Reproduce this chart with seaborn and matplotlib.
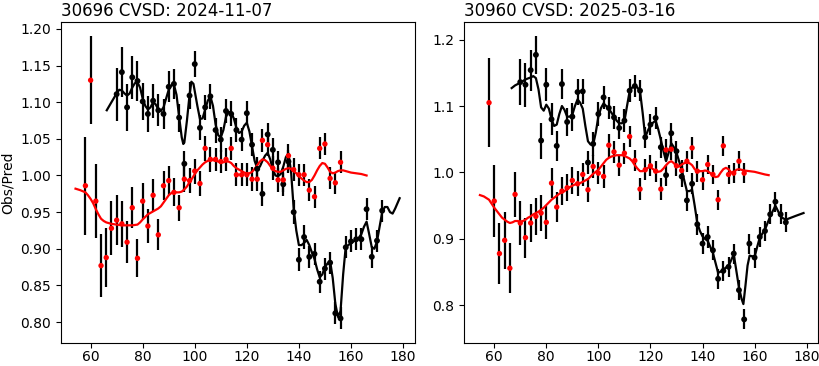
import numpy as np
import matplotlib
matplotlib.use("Agg")
import matplotlib.pyplot as plt
import seaborn as sns

# ---- panel 1: 30696, 2024-11-07 ----
titles = ["30696 CVSD: 2024-11-07", "30960 CVSD: 2025-03-16"]

p1_red_x = list(range(58, 158, 2))
p1_red_y = [0.986, 1.130, 0.965, 0.877, 0.888, 0.928, 0.939, 0.934, 0.909, 0.956,
            0.887, 0.965, 0.931, 0.973, 0.919, 0.986, 0.993, 0.977, 0.956, 0.995,
            0.993, 1.006, 0.989, 1.037, 1.022, 1.022, 1.019, 1.022, 1.037, 1.001,
            1.001, 1.001, 0.995, 0.995, 1.048, 1.042, 1.010, 0.994, 0.994, 1.027,
            1.008, 1.001, 1.001, 0.980, 0.971, 1.037, 1.043, 0.996, 0.990, 1.018]
p1_red_err = [0.067, 0.060, 0.050, 0.043, 0.040, 0.037, 0.034, 0.031, 0.029, 0.028,
              0.026, 0.025, 0.023, 0.022, 0.021, 0.020, 0.020, 0.019, 0.018, 0.018,
              0.017, 0.017, 0.017, 0.017, 0.017, 0.016, 0.016, 0.016, 0.016, 0.016,
              0.016, 0.016, 0.016, 0.016, 0.016, 0.016, 0.016, 0.016, 0.016, 0.016,
              0.016, 0.015, 0.015, 0.015, 0.015, 0.015, 0.015, 0.015, 0.015, 0.015]

p1_blk_x = list(range(70, 174, 2))
p1_blk_y = [1.111, 1.141, 1.093, 1.134, 1.129, 1.101, 1.084, 1.102, 1.089, 1.084,
            1.121, 1.125, 1.079, 1.016, 1.109, 1.152, 1.065, 1.093, 1.108, 1.062,
            1.049, 1.088, 1.084, 1.062, 1.049, 1.085, 1.042, 1.009, 0.975, 1.056,
            1.035, 1.018, 0.988, 1.019, 0.950, 0.885, 0.916, 0.889, 0.893, 0.855,
            0.873, 0.881, 0.812, 0.805, 0.902, 0.910, 0.913, 0.913, 0.954, 0.889,
            0.911, 0.952]
p1_blk_err = [0.036, 0.034, 0.032, 0.029, 0.027, 0.025, 0.024, 0.023, 0.022, 0.021,
              0.021, 0.020, 0.019, 0.018, 0.018, 0.018, 0.017, 0.017, 0.017, 0.017,
              0.017, 0.017, 0.017, 0.016, 0.016, 0.016, 0.016, 0.016, 0.016, 0.016,
              0.016, 0.016, 0.016, 0.016, 0.016, 0.016, 0.016, 0.015, 0.015, 0.015,
              0.015, 0.015, 0.015, 0.015, 0.015, 0.015, 0.015, 0.015, 0.015, 0.015,
              0.015, 0.015]

p1_redline_x = [54.2, 56, 58, 59, 60, 61, 62, 63, 64, 65, 66, 68, 70, 72, 74, 76, 78, 79, 80,
                82, 84, 85, 86, 87, 88, 89, 90, 91, 92, 93, 94, 95, 96, 97, 98, 99, 100,
                101, 102, 103, 104, 105, 106, 107, 108, 109, 110, 111, 112, 113, 114, 115,
                116, 117, 118, 119, 120, 121, 122, 123, 124, 125, 126, 127, 128, 129, 130,
                131, 132, 133, 134, 135, 136, 137, 138, 139, 140, 141, 142, 143, 144, 145,
                146, 147, 148, 149, 150, 151, 152, 153, 154, 155, 156, 157, 158, 160, 162,
                164, 166]
p1_redline_y = [0.982, 0.980, 0.977, 0.973, 0.968, 0.962, 0.954, 0.947, 0.941, 0.938, 0.936,
                0.934, 0.933, 0.932, 0.932, 0.932, 0.933, 0.936, 0.940, 0.947, 0.951, 0.953,
                0.955, 0.958, 0.963, 0.968, 0.973, 0.976, 0.977, 0.977, 0.977, 0.978, 0.981,
                0.985, 0.991, 0.996, 1.002, 1.007, 1.011, 1.015, 1.018, 1.020, 1.021, 1.021,
                1.020, 1.019, 1.018, 1.018, 1.019, 1.019, 1.017, 1.013, 1.010, 1.008, 1.006,
                1.004, 1.003, 1.003, 1.005, 1.009, 1.014, 1.019, 1.022, 1.021, 1.018, 1.013,
                1.008, 1.006, 1.005, 1.005, 1.007, 1.009, 1.010, 1.009, 1.006, 1.003, 0.999,
                0.996, 0.993, 0.991, 0.991, 0.994, 1.000, 1.007, 1.013, 1.017, 1.016, 1.011,
                1.005, 1.003, 1.004, 1.006, 1.007, 1.007, 1.006, 1.004, 1.003, 1.002, 1.000]

p1_blkline_x = [66.2, 68, 70, 71, 72, 73, 74, 75, 76, 77, 78, 79, 80, 81, 82, 83, 84, 85, 86,
                87, 88, 89, 90, 91, 92, 93, 94, 95, 95.6, 96, 97, 98, 98.7, 99.5, 100, 101,
                102, 103, 104, 105, 106, 107, 108, 109, 110, 111, 112, 113, 114, 115, 116,
                117, 118, 119, 120, 121, 122, 123, 124, 125, 126, 127, 128, 129, 130, 131,
                132, 133, 134, 135, 136, 137, 138, 139, 140, 141, 142, 143, 144, 145, 146,
                147, 148, 149, 150, 151, 152, 153, 154, 155, 156, 157, 158, 159, 160, 162,
                163, 164, 165, 166, 167, 168, 169, 170, 171, 172, 173, 174, 175, 176, 177,
                178.7]
p1_blkline_y = [1.089, 1.100, 1.112, 1.117, 1.116, 1.112, 1.109, 1.112, 1.120, 1.126, 1.127,
                1.120, 1.105, 1.095, 1.090, 1.093, 1.100, 1.097, 1.090, 1.088, 1.093, 1.105,
                1.117, 1.123, 1.124, 1.110, 1.080, 1.052, 1.043, 1.045, 1.075, 1.110, 1.128,
                1.125, 1.115, 1.095, 1.077, 1.078, 1.090, 1.102, 1.108, 1.095, 1.070, 1.055,
                1.052, 1.062, 1.080, 1.087, 1.085, 1.078, 1.065, 1.058, 1.060, 1.068, 1.072,
                1.060, 1.040, 1.020, 1.010, 1.012, 1.020, 1.027, 1.031, 1.022, 1.008, 1.000,
                0.999, 1.002, 1.012, 1.025, 1.030, 1.005, 0.955, 0.925, 0.905, 0.905, 0.908,
                0.912, 0.905, 0.895, 0.886, 0.872, 0.861, 0.865, 0.875, 0.880, 0.883, 0.860,
                0.825, 0.807, 0.815, 0.865, 0.903, 0.905, 0.908, 0.912, 0.915, 0.920, 0.930,
                0.937, 0.920, 0.902, 0.900, 0.910, 0.930, 0.950, 0.957, 0.957, 0.950, 0.948,
                0.955, 0.969]

# ---- panel 2: 30960, 2025-03-16 ----
p2_red_x = list(range(58, 158, 2))
p2_red_y = [1.105, 0.957, 0.878, 0.898, 0.856, 0.967, 0.924, 0.902, 0.924, 0.934,
            0.939, 0.925, 0.984, 0.948, 0.972, 0.977, 0.988, 0.983, 0.997, 0.974,
            1.009, 0.999, 0.994, 1.041, 1.031, 1.011, 1.029, 1.054, 1.018, 0.975,
            1.004, 1.010, 1.002, 0.975, 1.034, 1.035, 1.010, 1.003, 1.017, 1.037,
            1.002, 0.989, 1.012, 0.997, 0.959, 1.040, 0.997, 0.999, 1.017, 0.999]
p2_red_err = [0.067, 0.054, 0.046, 0.043, 0.038, 0.034, 0.033, 0.030, 0.029, 0.028,
              0.027, 0.025, 0.023, 0.022, 0.021, 0.020, 0.020, 0.019, 0.018, 0.018,
              0.017, 0.017, 0.017, 0.017, 0.017, 0.016, 0.016, 0.016, 0.016, 0.016,
              0.016, 0.016, 0.016, 0.016, 0.016, 0.016, 0.016, 0.016, 0.016, 0.016,
              0.016, 0.015, 0.015, 0.015, 0.015, 0.015, 0.015, 0.015, 0.015, 0.015]

p2_blk_x = list(range(70, 174, 2))
p2_blk_y = [1.136, 1.132, 1.154, 1.177, 1.048, 1.132, 1.080, 1.040, 1.133, 1.076,
            1.084, 1.121, 1.122, 1.015, 1.043, 1.088, 1.113, 1.097, 1.083, 1.067,
            1.078, 1.123, 1.130, 1.123, 1.053, 1.072, 1.082, 1.038, 0.996, 1.059,
            1.032, 0.994, 0.958, 0.983, 0.922, 0.893, 0.903, 0.883, 0.840, 0.852,
            0.858, 0.878, 0.823, 0.779, 0.893, 0.872, 0.903, 0.912, 0.937, 0.956,
            0.937, 0.925]
p2_blk_err = [0.035, 0.033, 0.031, 0.029, 0.027, 0.025, 0.024, 0.023, 0.022, 0.021,
              0.021, 0.020, 0.019, 0.018, 0.018, 0.018, 0.017, 0.017, 0.017, 0.017,
              0.017, 0.017, 0.017, 0.016, 0.016, 0.016, 0.016, 0.016, 0.016, 0.016,
              0.016, 0.016, 0.016, 0.016, 0.016, 0.016, 0.016, 0.015, 0.015, 0.015,
              0.015, 0.015, 0.015, 0.015, 0.015, 0.015, 0.015, 0.015, 0.015, 0.015,
              0.015, 0.015]

p2_redline_x = [54.5, 56, 58, 59, 60, 61, 62, 63, 64, 65, 66, 67, 68, 69, 70, 71, 72, 73, 74,
                75, 76, 77, 78, 79, 80, 81, 82, 83, 84, 85, 86, 87, 88, 89, 90, 91, 92, 93,
                94, 95, 96, 97, 98, 99, 100, 101, 102, 103, 104, 105, 106, 107, 108, 109,
                110, 111, 112, 113, 114, 115, 116, 117, 118, 119, 120, 121, 122, 123, 124,
                125, 126, 127, 128, 129, 130, 131, 132, 133, 134, 135, 136, 137, 138, 139,
                140, 141, 142, 143, 144, 145, 146, 147, 148, 149, 150, 151, 152, 153, 154,
                155, 156, 158, 160, 162, 164, 165.4]
p2_redline_y = [0.966, 0.964, 0.959, 0.953, 0.947, 0.942, 0.937, 0.932, 0.929, 0.926, 0.924,
                0.925, 0.927, 0.927, 0.926, 0.927, 0.929, 0.932, 0.934, 0.937, 0.939, 0.941,
                0.944, 0.947, 0.951, 0.955, 0.959, 0.962, 0.965, 0.968, 0.970, 0.972, 0.975,
                0.978, 0.980, 0.982, 0.983, 0.984, 0.986, 0.988, 0.990, 0.994, 0.998, 1.001,
                1.004, 1.009, 1.014, 1.019, 1.022, 1.024, 1.025, 1.026, 1.026, 1.026, 1.025,
                1.023, 1.021, 1.017, 1.011, 1.006, 1.002, 1.002, 1.004, 1.007, 1.008, 1.005,
                1.002, 1.001, 1.002, 1.006, 1.011, 1.015, 1.017, 1.014, 1.009, 1.009, 1.012,
                1.014, 1.015, 1.014, 1.011, 1.005, 1.002, 1.002, 1.002, 1.003, 1.002, 0.999,
                0.995, 0.993, 0.994, 1.000, 1.005, 1.007, 1.005, 1.000, 1.000, 1.004, 1.005,
                1.004, 1.003, 1.002, 1.001, 0.999, 0.997, 0.996]

p2_blkline_x = [66.7, 68, 70, 72, 74, 75, 76, 77, 78, 79, 80, 81, 82, 83, 84, 85, 86, 87, 88,
                89, 90, 91, 92, 93, 94, 95, 96, 97, 98, 99, 100, 101, 102, 103, 104, 105,
                106, 107, 108, 109, 110, 111, 112, 113, 114, 115, 116, 117, 118, 119, 120,
                121, 122, 123, 124, 125, 126, 127, 128, 129, 130, 131, 132, 133, 134, 135,
                136, 137, 138, 139, 140, 141, 142, 143, 144, 145, 146, 147, 148, 149, 150,
                151, 152, 153, 154, 155, 155.7, 156.5, 157.3, 158.1, 159, 160, 161, 162,
                163, 164, 165, 166, 167, 168, 169, 170, 171, 172, 174, 176, 178.8]
p2_blkline_y = [1.127, 1.131, 1.135, 1.140, 1.143, 1.145, 1.142, 1.125, 1.098, 1.093, 1.102,
                1.096, 1.080, 1.070, 1.072, 1.088, 1.100, 1.094, 1.084, 1.084, 1.087, 1.100,
                1.110, 1.105, 1.096, 1.070, 1.047, 1.042, 1.042, 1.060, 1.084, 1.097, 1.104,
                1.100, 1.096, 1.090, 1.084, 1.078, 1.074, 1.074, 1.077, 1.100, 1.122, 1.128,
                1.130, 1.128, 1.122, 1.090, 1.053, 1.063, 1.071, 1.075, 1.078, 1.065, 1.049,
                1.032, 1.017, 1.030, 1.044, 1.038, 1.030, 1.017, 1.004, 0.988, 0.972, 0.972,
                0.974, 0.950, 0.924, 0.912, 0.904, 0.900, 0.897, 0.888, 0.879, 0.864, 0.849,
                0.851, 0.854, 0.857, 0.859, 0.868, 0.877, 0.852, 0.827, 0.810, 0.802, 0.830,
                0.860, 0.875, 0.874, 0.873, 0.888, 0.902, 0.908, 0.914, 0.924, 0.934, 0.942,
                0.950, 0.942, 0.934, 0.931, 0.929, 0.932, 0.935, 0.939]

panels = [
    (p1_red_x, p1_red_y, p1_red_err, p1_blk_x, p1_blk_y, p1_blk_err,
     p1_redline_x, p1_redline_y, p1_blkline_x, p1_blkline_y),
    (p2_red_x, p2_red_y, p2_red_err, p2_blk_x, p2_blk_y, p2_blk_err,
     p2_redline_x, p2_redline_y, p2_blkline_x, p2_blkline_y),
]
ylims = [(0.771, 1.210), (0.743, 1.227)]
yticks = [np.arange(0.80, 1.201, 0.05), np.arange(0.8, 1.201, 0.1)]
yfmt = ["{:.2f}", "{:.1f}"]

fig, axes = plt.subplots(1, 2, figsize=(8.2, 3.66), dpi=100)
fig.subplots_adjust(left=0.074, right=0.998, bottom=0.062, top=0.941, wspace=0.14)

for i, ax in enumerate(axes):
    rx, ry, re, bx, by, be, rlx, rly, blx, bly = panels[i]
    # error bars (black for both series)
    ax.errorbar(bx, by, yerr=be, fmt="none", ecolor="black", elinewidth=1.6, zorder=1)
    ax.errorbar(rx, ry, yerr=re, fmt="none", ecolor="black", elinewidth=1.6, zorder=1)
    # model curves
    sns.lineplot(x=blx, y=bly, color="black", lw=1.6, sort=False, estimator=None, ax=ax, zorder=2)
    sns.lineplot(x=rlx, y=rly, color="red", lw=1.6, sort=False, estimator=None, ax=ax, zorder=2)
    # measurements
    sns.scatterplot(x=bx, y=by, color="black", s=18, edgecolor="none", ax=ax, zorder=3)
    sns.scatterplot(x=rx, y=ry, color="red", s=15, edgecolor="none", ax=ax, zorder=3)

    ax.set_xlim(48.5, 184.5)
    ax.set_ylim(*ylims[i])
    ax.set_xticks([60, 80, 100, 120, 140, 160, 180])
    ax.set_yticks(yticks[i])
    ax.set_yticklabels([yfmt[i].format(v) for v in yticks[i]])
    ax.tick_params(axis="x", pad=1.5)
    ax.set_title(titles[i], loc="left", fontsize=12, pad=4)
    ax.set_xlabel("")

axes[0].set_ylabel("Obs/Pred")
axes[1].set_ylabel("")

fig.savefig("out.png", dpi=100)
